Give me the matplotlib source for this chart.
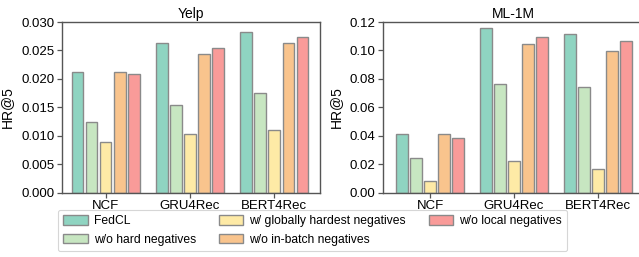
import numpy as np
import matplotlib
matplotlib.use("Agg")
import matplotlib.pyplot as plt

plt.rcParams['font.family'] = ['Liberation Sans', 'DejaVu Sans']

# data
models = ['NCF', 'GRU4Rec', 'BERT4Rec']
variants = ['FedCL', 'w/o hard negatives', 'w/ globally hardest negatives',
            'w/o in-batch negatives', 'w/o local negatives']
colors = ['#8fd4c1', '#c7e6c1', '#feeaa6', '#f9c48d', '#f99b99']

yelp_fedcl = [0.0213, 0.0264, 0.0282]
yelp_no_hard = [0.0124, 0.0154, 0.0176]
yelp_global = [0.0089, 0.0103, 0.0111]
yelp_no_batch = [0.0213, 0.0243, 0.0264]
yelp_no_local = [0.0208, 0.0255, 0.0273]

ml_fedcl = [0.0415, 0.1156, 0.1118]
ml_no_hard = [0.0244, 0.0762, 0.0745]
ml_global = [0.0082, 0.0221, 0.0164]
ml_no_batch = [0.0415, 0.1043, 0.0996]
ml_no_local = [0.0384, 0.1092, 0.1069]

yelp = [yelp_fedcl, yelp_no_hard, yelp_global, yelp_no_batch, yelp_no_local]
ml = [ml_fedcl, ml_no_hard, ml_global, ml_no_batch, ml_no_local]

fig = plt.figure(figsize=(6.39, 2.57), dpi=100)
ax1 = fig.add_axes([0.097, 0.2502, 0.4045, 0.664])
ax2 = fig.add_axes([0.5994, 0.2502, 0.4085, 0.664])

x = np.arange(len(models))
step = 0.167
width = 0.135
spine_col = '#555555'

def draw(ax, data, title, ylim, yticks, fmt, xlim):
    for i, vals in enumerate(data):
        ax.bar(x + (i - 2) * step, vals, width, color=colors[i],
               edgecolor='#8a8a8a', linewidth=1.0, label=variants[i], zorder=2)
    ax.set_xlim(*xlim)
    ax.set_ylim(*ylim)
    ax.set_yticks(yticks)
    ax.set_yticklabels([fmt % t for t in yticks])
    ax.set_xticks(x)
    ax.set_xticklabels(models)
    ax.set_title(title, fontsize=10, pad=3)
    ax.set_ylabel('HR@5', fontsize=10, labelpad=5)
    ax.tick_params(axis='both', labelsize=9.5, length=3.5, width=0.9,
                   color=spine_col, pad=2)
    for s in ax.spines.values():
        s.set_color(spine_col)
        s.set_linewidth(1.0)

draw(ax1, yelp, 'Yelp', (0, 0.030), np.arange(0, 0.0301, 0.005), '%.3f', (-0.52, 2.55))
draw(ax2, ml, 'ML-1M', (0, 0.12), np.arange(0, 0.121, 0.02), '%.2f', (-0.56, 2.55))

handles, labels = ax1.get_legend_handles_labels()
leg = fig.legend(handles, labels, ncol=3, loc='center',
                 bbox_to_anchor=(0.489, 0.103), fontsize=8.7, frameon=True,
                 handlelength=2.0, handleheight=0.8, columnspacing=1.9,
                 labelspacing=0.55, borderpad=0.45, handletextpad=0.5)
leg.get_frame().set_edgecolor('#cccccc')
leg.get_frame().set_linewidth(0.8)

fig.savefig('out.png', dpi=100)
